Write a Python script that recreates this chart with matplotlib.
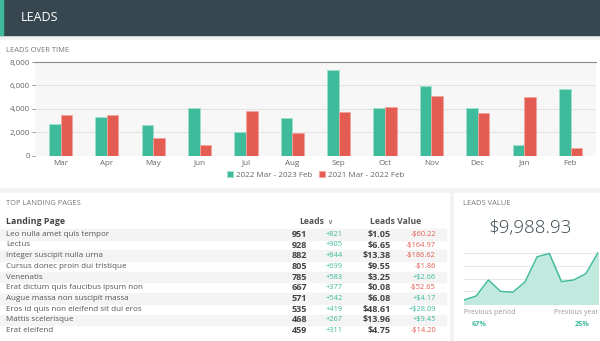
import matplotlib
matplotlib.use("Agg")
import matplotlib.pyplot as plt
import numpy as np
from matplotlib.patches import Rectangle
from matplotlib.ticker import FuncFormatter

plt.rcParams["font.family"] = ["Open Sans", "DejaVu Sans"]

# --- data ---
months = ["Mar", "Apr", "May", "Jun", "Jul", "Aug", "Sep", "Oct", "Nov", "Dec", "Jan", "Feb"]
leads_current = [2700, 3300, 2600, 4030, 2030, 3170, 7340, 4030, 5940, 4030, 890, 5690]
leads_previous = [3460, 3430, 1510, 940, 3830, 1910, 3690, 4140, 5090, 3600, 5000, 660]
series_labels = ["2022 Mar - 2023 Feb", "2021 Mar - 2022 Feb"]

pages = ["Leo nulla amet quis tempor", "Lectus", "Integer suscipit nulla urna",
         "Cursus donec proin dui tristique", "Venenatis", "Erat dictum quis faucibus ipsum non",
         "Augue massa non suscipit massa", "Eros id quis non eleifend sit dui eros",
         "Mattis scelerisque", "Erat eleifend"]
page_leads = [951, 928, 882, 805, 785, 667, 571, 535, 468, 459]
page_leads_delta = [821, 905, 844, 699, 583, 377, 542, 419, 267, 311]
page_value = [1.05, 6.65, 13.38, 9.55, 3.25, 0.08, 6.08, 48.61, 13.96, 4.75]
page_value_delta = [-60.22, -164.97, -186.62, -1.86, 2.66, -52.65, 4.17, 28.09, 9.45, -14.20]

spark = [0.34, 0.65, 1.9, 1.01, 0.94, 1.74, 3.71, 3.97, 1.77, 1.9, 2.39, 4.03]
total_value = "$9,988.93"
prev_period_pct = "67%"
prev_year_pct = "25%"

GREEN = "#3dbb9b"
RED = "#e35d52"
DARK = "#37474f"
GREY_TXT = "#777777"
W, H = 600, 341


def fx(x):
    return x / W


def fy(y):
    return 1 - y / H


def box(x0, y0, x1, y1):
    return [fx(x0), fy(y1), (x1 - x0) / W, (y1 - y0) / H]


def panel(x0, y0, x1, y1, color, z=-2):
    fig.patches.append(Rectangle((fx(x0), fy(y1)), (x1 - x0) / W, (y1 - y0) / H,
                                 transform=fig.transFigure, color=color, zorder=z))


fig = plt.figure(figsize=(6, 3.41), dpi=100, facecolor="#f2f2f2")

# panels
panel(0, 0, 600, 35, DARK)
panel(0, 0, 3, 35, GREEN, z=-1.5)
panel(0, 40, 600, 187, "white")
panel(0, 193, 449, 340, "white")
panel(454, 193, 600, 340, "white")

fig.text(fx(21), fy(17.5), "LEADS", color="white", fontsize=9, va="center", ha="left")
fig.text(fx(6), fy(50), "LEADS OVER TIME", color=GREY_TXT, fontsize=5.4, va="center")

# --- bar chart ---
ax = fig.add_axes(box(35, 62, 596, 155.5))
ax.set_facecolor("#f7f7f7")
x = np.arange(len(months))
bw = 0.25
ax.bar(x - bw / 2, leads_current, bw, color=GREEN, edgecolor="#9fe0cd", linewidth=0.6,
       label=series_labels[0], zorder=3)
ax.bar(x + bw / 2, leads_previous, bw, color=RED, edgecolor="#f2a49c", linewidth=0.6,
       label=series_labels[1], zorder=3)
ax.set_xlim(-0.55, 11.55)
ax.set_ylim(0, 8000)
ax.set_yticks([0, 2000, 4000, 6000, 8000])
ax.yaxis.set_major_formatter(FuncFormatter(lambda v, p: f"{int(v):,}"))
ax.set_xticks(x)
ax.set_xticklabels(months)
ax.tick_params(axis="both", labelsize=5.8, colors="#666666", length=2, width=0.5, pad=1.5)
ax.tick_params(axis="x", length=0, pad=3)
ax.grid(axis="y", color="#e2e2e2", linewidth=0.7, zorder=0)
for s in ["left", "right", "bottom"]:
    ax.spines[s].set_visible(False)
ax.spines["top"].set_color("#888888")
ax.spines["top"].set_linewidth(0.8)
ax.legend(loc="upper center", bbox_to_anchor=(0.5, -0.12), ncol=2, frameon=False,
          fontsize=5.8, handlelength=0.8, handleheight=0.8, handletextpad=0.3,
          columnspacing=0.8, labelcolor="#666666", borderpad=0)

# --- table ---
fig.text(fx(6), fy(203.5), "TOP LANDING PAGES", color=GREY_TXT, fontsize=5.4, va="center")
hy = 221
fig.text(fx(6), fy(hy), "Landing Page", color="#444444", fontsize=6.4, fontweight="bold", va="center")
fig.text(fx(312), fy(hy), "Leads", color="#555555", fontsize=6.2, fontweight="bold", va="center", ha="center")
fig.text(fx(330), fy(hy + 0.5), "\u2228", color="#555555", fontsize=5, va="center", ha="center",
         family="DejaVu Sans")
fig.text(fx(396), fy(hy), "Leads Value", color="#555555", fontsize=6.2, fontweight="bold", va="center", ha="center")

row_h = 10.7
for i, name in enumerate(pages):
    yc = 234.3 + i * row_h
    if i % 2 == 0:
        panel(0, yc - row_h / 2, 446, yc + row_h / 2, "#f4f4f4", z=-1)
    fig.text(fx(6), fy(yc), name, color="#555555", fontsize=5.8, va="center")
    fig.text(fx(307), fy(yc), f"{page_leads[i]}", color="#444444", fontsize=6.5,
             fontweight="bold", va="center", ha="right")
    fig.text(fx(343), fy(yc), f"+{page_leads_delta[i]}", color=GREEN, fontsize=5.4,
             va="center", ha="right")
    fig.text(fx(391), fy(yc), f"${page_value[i]:.2f}", color="#444444", fontsize=6.5,
             fontweight="bold", va="center", ha="right")
    d = page_value_delta[i]
    sign = "+" if d >= 0 else "-"
    fig.text(fx(436), fy(yc), f"{sign}${abs(d):.2f}", color=GREEN if d >= 0 else RED,
             fontsize=5.4, va="center", ha="right")

# --- leads value panel ---
fig.text(fx(463), fy(203.5), "LEADS VALUE", color=GREY_TXT, fontsize=5.4, va="center")
fig.text(fx(530), fy(228), total_value, color=DARK, fontsize=13.5, fontweight="light",
         va="center", ha="center")

ax2 = fig.add_axes(box(464, 251.5, 598, 304.3))
sx = np.arange(len(spark))
ax2.fill_between(sx, spark, color="#c2e9dd", zorder=2)
ax2.plot(sx, spark, color=GREEN, linewidth=1, zorder=3)
ax2.set_xlim(0, len(spark) - 1)
ax2.set_ylim(0, 4.12)
ax2.set_yticks([1, 2, 3, 4])
ax2.set_xticks([])
ax2.tick_params(axis="y", length=0, labelleft=False)
ax2.grid(axis="y", color="#e6e6e6", linewidth=0.7, zorder=0)
for s in ax2.spines.values():
    s.set_visible(False)
ax2.set_facecolor("none")

fig.text(fx(464), fy(312.5), "Previous period", color="#999999", fontsize=5, va="center")
fig.text(fx(598), fy(312.5), "Previous year", color="#999999", fontsize=5, va="center", ha="right")
fig.text(fx(479), fy(324), prev_period_pct, color=GREEN, fontsize=5.2, fontweight="bold", va="center", ha="center")
fig.text(fx(582), fy(324), prev_year_pct, color=GREEN, fontsize=5.2, fontweight="bold", va="center", ha="center")

fig.savefig("out.png", dpi=100, facecolor=fig.get_facecolor())
